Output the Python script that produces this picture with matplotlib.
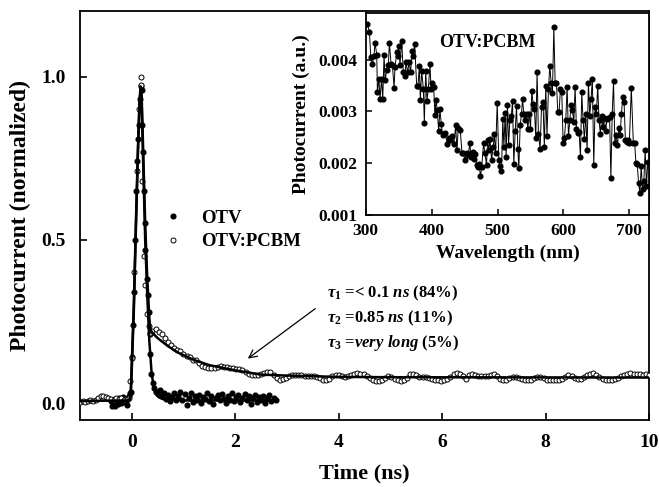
import numpy as np
import matplotlib
matplotlib.use("Agg")
import matplotlib.pyplot as plt
from matplotlib.lines import Line2D

plt.rcParams.update({"font.family": "Liberation Serif", "font.weight": "bold",
                     "mathtext.fontset": "custom",
                     "mathtext.rm": "Liberation Serif:bold",
                     "mathtext.it": "Liberation Serif:bold:italic",
                     "mathtext.bf": "Liberation Serif:bold",
                     "axes.linewidth": 1.3})

# ---- main panel: OTV (filled dots) ----
otv_t = [-0.40, -0.38, -0.36, -0.34, -0.32, -0.30, -0.28, -0.26, -0.24, -0.22,
         -0.20, -0.18, -0.16, -0.14, -0.12, -0.10, -0.08, -0.06, -0.04, -0.02,
         0.00, 0.02, 0.04, 0.06, 0.08, 0.10, 0.12, 0.14, 0.16, 0.18,
         0.19, 0.20, 0.21, 0.23, 0.25, 0.265, 0.29, 0.31, 0.33, 0.35,
         0.36, 0.38, 0.41, 0.43,
         0.46, 0.50, 0.54, 0.58, 0.62, 0.66, 0.70, 0.74, 0.78, 0.82,
         0.86, 0.90, 0.94, 0.98, 1.02, 1.06, 1.10, 1.14, 1.18, 1.22,
         1.26, 1.30, 1.34, 1.38, 1.42, 1.46, 1.50, 1.54, 1.58, 1.62,
         1.66, 1.70, 1.74, 1.78, 1.82, 1.86, 1.90, 1.94, 1.98, 2.02,
         2.06, 2.10, 2.14, 2.18, 2.22, 2.26, 2.30, 2.34, 2.38, 2.42,
         2.46, 2.50, 2.54, 2.58, 2.62, 2.66, 2.70, 2.74, 2.78]
otv_y = [0.005, -0.008, 0.010, 0.002, -0.010, 0.012, 0.006, -0.004, 0.015, 0.008,
         0.000, 0.012, 0.018, 0.004, 0.010, -0.006, 0.016, 0.020, 0.030, 0.035,
         0.14, 0.24, 0.34, 0.50, 0.65, 0.74, 0.81, 0.85, 0.93, 0.97,
         0.96, 0.85, 0.77, 0.65, 0.55, 0.47, 0.38, 0.33, 0.28, 0.21,
         0.15, 0.09, 0.06, 0.045,
         0.035, 0.028, 0.040, 0.020, 0.032, 0.012, 0.025, 0.005, 0.018, 0.030,
         0.008, 0.022, 0.035, 0.010, 0.028, -0.005, 0.015, 0.030, 0.002, 0.020,
         0.008, 0.026, 0.000, 0.018, 0.012, 0.030, 0.005, 0.020, -0.004, 0.015,
         0.025, 0.008, 0.028, 0.012, 0.000, 0.020, 0.010, 0.030, 0.006, 0.018,
         0.024, 0.002, 0.014, 0.028, 0.008, 0.020, -0.002, 0.016, 0.026, 0.004,
         0.018, 0.010, 0.022, 0.000, 0.014, 0.024, 0.006, 0.016, 0.008]

otv_fit_t = [-0.40, -0.05, -0.02, 0.00, 0.04, 0.08, 0.12, 0.15, 0.17, 0.19,
             0.22, 0.26, 0.30, 0.34, 0.38, 0.42, 0.46, 0.52, 0.60, 1.00, 2.78]
otv_fit_y = [0.005, 0.005, 0.02, 0.12, 0.30, 0.55, 0.78, 0.92, 0.96, 0.93,
             0.74, 0.50, 0.33, 0.19, 0.10, 0.05, 0.03, 0.018, 0.012, 0.008, 0.008]

# ---- main panel: OTV:PCBM (open circles) ----
pcbm_head_t = [-1.00, -0.95, -0.90, -0.85, -0.80, -0.75, -0.70, -0.65, -0.60, -0.55,
               -0.50, -0.45, -0.40, -0.35, -0.30, -0.25, -0.20, -0.15, -0.10, -0.05,
               -0.03, 0.00, 0.05, 0.10, 0.14, 0.17, 0.18, 0.20, 0.23, 0.26,
               0.30, 0.33, 0.36]
pcbm_head_y = [0.004, 0.006, 0.003, 0.005, 0.008, 0.006, 0.010, 0.014, 0.020, 0.022,
               0.018, 0.015, 0.012, 0.010, 0.014, 0.012, 0.016, 0.010, 0.012, 0.015,
               0.068, 0.137, 0.40, 0.71, 0.90, 1.00, 0.975, 0.68, 0.45, 0.36,
               0.274, 0.235, 0.215]
# tail sampled every 0.06 ns from 0.40 to 10.00
pcbm_tail_y = [0.222, 0.226, 0.218, 0.211, 0.200, 0.188, 0.178, 0.170, 0.163, 0.160,
               0.150, 0.144, 0.140, 0.133, 0.131, 0.122, 0.113, 0.110, 0.106, 0.108,
               0.108, 0.110, 0.112, 0.111, 0.109, 0.108, 0.106, 0.105, 0.103, 0.100,
               0.095, 0.088, 0.086, 0.085, 0.086, 0.089, 0.093, 0.096, 0.094, 0.086,
               0.076, 0.072, 0.073, 0.078, 0.083, 0.086, 0.087, 0.086, 0.085, 0.084,
               0.084, 0.083, 0.082, 0.080, 0.076, 0.072, 0.070, 0.074, 0.082, 0.086,
               0.087, 0.084, 0.080, 0.082, 0.087, 0.090, 0.091, 0.090, 0.088, 0.082,
               0.076, 0.070, 0.067, 0.068, 0.071, 0.076, 0.082, 0.080, 0.074, 0.069,
               0.068, 0.070, 0.078, 0.088, 0.090, 0.086, 0.081, 0.079, 0.080, 0.078,
               0.074, 0.071, 0.069, 0.068, 0.070, 0.074, 0.081, 0.088, 0.091, 0.089,
               0.083, 0.073, 0.086, 0.088, 0.085, 0.083, 0.084, 0.082, 0.083, 0.086,
               0.088, 0.084, 0.074, 0.070, 0.072, 0.078, 0.080, 0.079, 0.078, 0.074,
               0.071, 0.070, 0.072, 0.077, 0.080, 0.079, 0.076, 0.072, 0.070, 0.069,
               0.069, 0.071, 0.075, 0.080, 0.086, 0.084, 0.077, 0.074, 0.075, 0.080,
               0.086, 0.090, 0.091, 0.087, 0.080, 0.073, 0.070, 0.069, 0.071, 0.074,
               0.078, 0.082, 0.086, 0.089, 0.091, 0.090, 0.089, 0.088, 0.086, 0.090,
               0.087]
pcbm_tail_t = np.round(np.arange(len(pcbm_tail_y)) * 0.06 + 0.40, 2)
pcbm_t = np.concatenate([pcbm_head_t, pcbm_tail_t])
pcbm_y = np.concatenate([pcbm_head_y, pcbm_tail_y])

pcbm_fit_t = [-1.0, -0.05, -0.02, 0.00, 0.04, 0.08, 0.12, 0.15, 0.17, 0.19,
              0.22, 0.26, 0.30, 0.34, 0.36, 0.40, 0.50, 0.70, 0.90, 1.20,
              1.50, 2.00, 2.50, 3.00, 3.50, 4.00, 5.00, 10.0]
pcbm_fit_y = [0.006, 0.008, 0.03, 0.10, 0.28, 0.53, 0.77, 0.92, 0.97, 0.95,
              0.78, 0.55, 0.38, 0.26, 0.225, 0.215, 0.199, 0.174, 0.154, 0.132,
              0.116, 0.100, 0.087, 0.084, 0.082, 0.080, 0.079, 0.078]

# ---- inset: OTV:PCBM photocurrent spectrum ----
wl = [302.5, 305.6, 307.6, 310, 312.6, 314, 316.7, 317.7, 320, 321.7,
      324, 325.8, 327.8, 329.3, 331.8, 334.3, 335.9, 338.4, 340.4, 343,
      344.4, 347, 348.5, 350, 352, 354.5, 357, 359.6, 361, 363.6,
      365.7, 368, 370.7, 372.2, 374.2, 377.3, 379.3, 381.3, 382.8, 384.8,
      387.4, 388.9, 391, 392.9, 395, 397.5, 399, 401, 403, 405,
      406.6, 408.6, 410.6, 412.6, 414.6, 416.7, 418.7, 420.7, 423.7, 425.8,
      427.8, 430.8, 433.8, 436.4, 438.4, 440.4, 443.4, 446, 448, 450.5,
      453, 455.6, 458, 459.6, 462, 463.6, 466, 468.2, 470, 472,
      474, 476, 478.8, 480.8, 483.3, 484.8, 486.9, 488.4, 490.9, 493.4,
      495, 497, 499.5, 502, 504, 506, 508, 509.6, 511.6, 513,
      515, 516.7, 518.7, 521, 522.7, 524.7, 526.8, 528.8, 530.8, 532.3,
      534.3, 536.4, 537.9, 539.9, 542, 544, 546, 548, 550, 552,
      554, 556, 558, 560, 562, 564.6, 566.7, 569, 571, 573.2,
      575, 577.3, 579.3, 581.3, 583.3, 585.4, 587.4, 589.4, 591.4, 593.4,
      595.5, 597.5, 599.5, 601.5, 603.5, 605.6, 607.6, 609.6, 611.6, 613.6,
      615.7, 617.7, 619.7, 621.7, 623.7, 625.8, 627.8, 629.8, 631.8, 633.8,
      635.9, 637.9, 639.9, 641.9, 643.9, 646, 648, 650, 652, 654,
      656, 658, 660, 662, 664, 666, 668, 670, 672, 674,
      676, 678, 680, 682, 684, 686, 688, 690, 692, 694,
      696, 698, 700, 703, 706, 708, 710, 712, 714, 716,
      718, 720, 722, 724, 726, 728, 730]
pc = [0.00469, 0.00454, 0.00406, 0.00392, 0.00408, 0.00433, 0.00410, 0.00337, 0.00363, 0.00324,
      0.00363, 0.00324, 0.00410, 0.00360, 0.00380, 0.00390, 0.00433, 0.00392, 0.00390, 0.00346,
      0.00385, 0.00414, 0.00408, 0.00427, 0.00390, 0.00437, 0.00376, 0.00369, 0.00395, 0.00376,
      0.00395, 0.00376, 0.00417, 0.00408, 0.00431, 0.00350, 0.00350, 0.00387, 0.00323, 0.00379,
      0.00344, 0.00278, 0.00379, 0.00321, 0.00344, 0.00392, 0.00344, 0.00356, 0.00348, 0.00294,
      0.00323, 0.00302, 0.00263, 0.00304, 0.00276, 0.00254, 0.00257, 0.00258, 0.00237, 0.00249,
      0.00244, 0.00252, 0.00237, 0.00273, 0.00225, 0.00269, 0.00265, 0.00220, 0.00219, 0.00207,
      0.00220, 0.00215, 0.00239, 0.00212, 0.00222, 0.00209, 0.00217, 0.00197, 0.00193, 0.00199,
      0.00175, 0.00193, 0.00239, 0.00219, 0.00197, 0.00245, 0.00225, 0.00247, 0.00207, 0.00231,
      0.00257, 0.00219, 0.00316, 0.00206, 0.00194, 0.00185, 0.00286, 0.00231, 0.00297, 0.00212,
      0.00313, 0.00235, 0.00283, 0.00292, 0.00321, 0.00199, 0.00263, 0.00310, 0.00228, 0.00190,
      0.00273, 0.00296, 0.00324, 0.00296, 0.00283, 0.00296, 0.00267, 0.00296, 0.00267, 0.00340,
      0.00315, 0.00305, 0.00249, 0.00376, 0.00257, 0.00228, 0.00308, 0.00318, 0.00231, 0.00350,
      0.00252, 0.00344, 0.00388, 0.00356, 0.00335, 0.00463, 0.00356, 0.00356, 0.00299, 0.00299,
      0.00344, 0.00337, 0.00239, 0.00249, 0.00283, 0.00348, 0.00252, 0.00283, 0.00312, 0.00302,
      0.00280, 0.00347, 0.00267, 0.00258, 0.00260, 0.00213, 0.00337, 0.00283, 0.00246, 0.00296,
      0.00226, 0.00356, 0.00292, 0.00324, 0.00363, 0.00196, 0.00308, 0.00296, 0.00350, 0.00283,
      0.00257, 0.00292, 0.00270, 0.00288, 0.00263, 0.00285, 0.00288, 0.00290, 0.00171, 0.00296,
      0.00358, 0.00240, 0.00255, 0.00235, 0.00268, 0.00255, 0.00296, 0.00328, 0.00318, 0.00245,
      0.00242, 0.00245, 0.00240, 0.00345, 0.00240, 0.00240, 0.00200, 0.00198, 0.00162, 0.00143,
      0.00195, 0.00150, 0.00165, 0.00225, 0.00157, 0.00202, 0.00200]

fig = plt.figure(figsize=(6.59, 4.87), dpi=100)
ax = fig.add_axes([0.1214, 0.1376, 0.8636, 0.8394])

ax.plot(otv_t, otv_y, "o", ms=3.4, color="black", zorder=3)
ax.plot(pcbm_t, pcbm_y, "o", ms=3.6, mfc="white", mec="black", mew=0.7, zorder=3)
ax.plot(otv_fit_t, otv_fit_y, "-", color="black", lw=1.8, zorder=4)
ax.plot(pcbm_fit_t, pcbm_fit_y, "-", color="black", lw=1.8, zorder=4)

ax.set_xlim(-1, 10)
ax.set_ylim(-0.052, 1.2)
ax.set_xticks([0, 2, 4, 6, 8, 10])
ax.set_yticks([0.0, 0.5, 1.0])
ax.set_yticklabels(["0.0", "0.5", "1.0"])
ax.tick_params(direction="in", length=5, width=1.2, labelsize=14, pad=10,
               top=False, right=False)
ax.set_xlabel("Time (ns)", fontsize=16, fontweight="bold", labelpad=9)
ax.set_ylabel("Photocurrent (normalized)", fontsize=17, fontweight="bold", labelpad=8)

handles = [Line2D([], [], ls="none", marker="o", ms=3.4, color="black"),
           Line2D([], [], ls="none", marker="o", ms=3.6, mfc="white", mec="black", mew=0.7)]
ax.legend(handles, ["OTV", "OTV:PCBM"], loc="upper left", bbox_to_anchor=(0.114, 0.556),
          frameon=False, handlelength=1.2, handletextpad=0.9, labelspacing=0.35,
          prop={"weight": "bold", "size": 13.5})

ax.text(3.78, 0.336, r"$\tau_1$ =< 0.1 $ns$ (84%)", fontsize=12, va="center")
ax.text(3.78, 0.260, r"$\tau_2$ =0.85 $ns$ (11%)", fontsize=12, va="center")
ax.text(3.78, 0.183, r"$\tau_3$ =$very\ long$ (5%)", fontsize=12, va="center")
ax.annotate("", xy=(2.2, 0.131), xytext=(3.59, 0.294),
            arrowprops=dict(arrowstyle="->", lw=0.9, color="black", mutation_scale=14))

# inset
ins = fig.add_axes([0.555, 0.5585, 0.43, 0.4145])
ins.plot(wl, pc, "-o", color="black", lw=0.7, ms=3.4)
ins.set_xlim(300, 730)
ins.set_ylim(0.001, 0.0049)
ins.set_xticks([300, 400, 500, 600, 700])
ins.set_yticks([0.001, 0.002, 0.003, 0.004])
ins.set_yticklabels(["0.001", "0.002", "0.003", "0.004"])
ins.tick_params(direction="in", length=4, width=1.1, labelsize=12.5, pad=6)
ins.set_xlabel("Wavelength (nm)", fontsize=14, fontweight="bold", labelpad=4)
ins.set_ylabel("Photocurrent (a.u.)", fontsize=14, fontweight="bold", labelpad=6)
ins.text(484, 0.00433, "OTV:PCBM", fontsize=13, ha="center", va="center")

fig.savefig("out.png", dpi=100)
